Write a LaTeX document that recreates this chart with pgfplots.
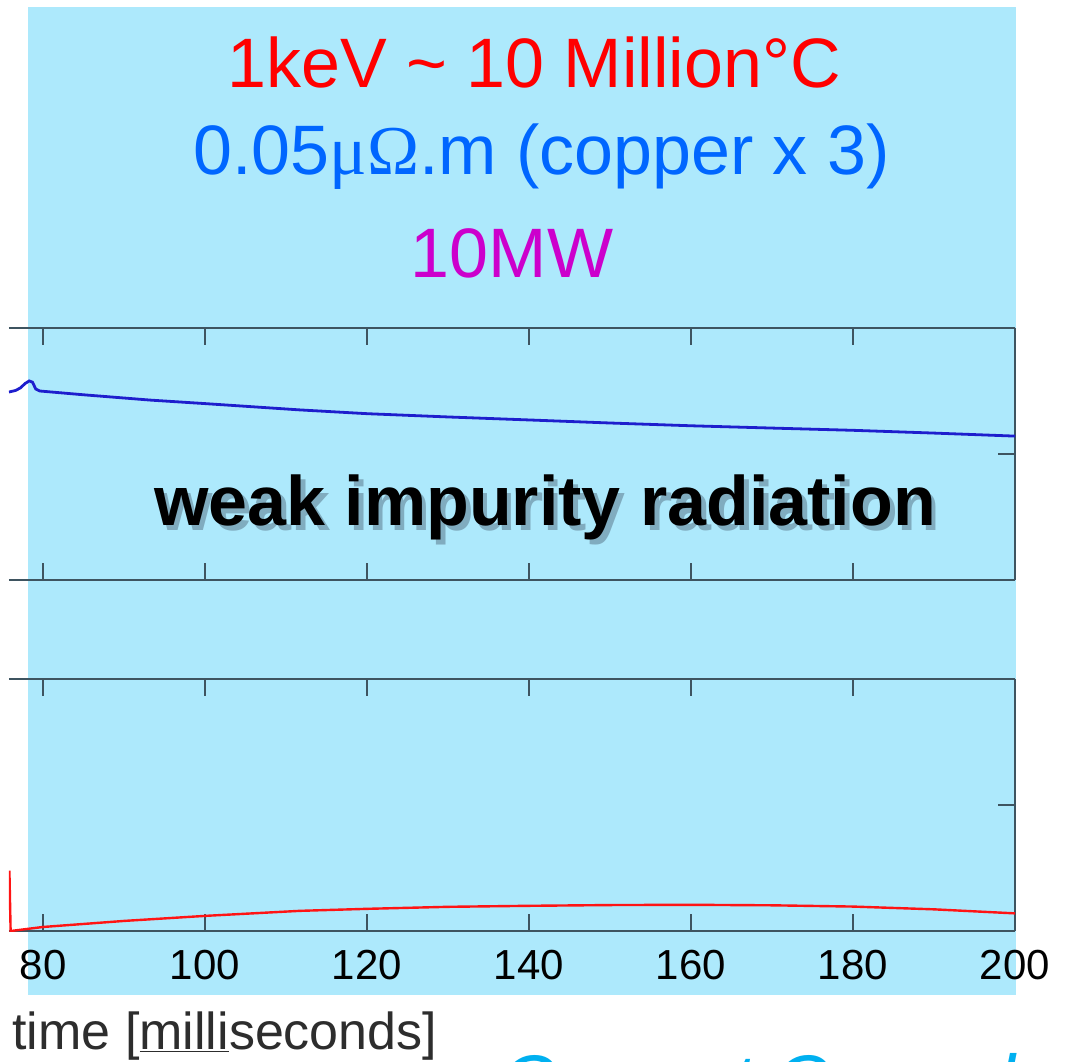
\documentclass[border=0pt]{standalone}
\usepackage{fontspec}
\setmainfont{Liberation Sans}
\newfontfamily\seriffont{Liberation Serif}
\usepackage{pgfplots}
\pgfplotsset{compat=1.18}
\definecolor{bgblue}{RGB}{173,233,252}
\definecolor{axgray}{RGB}{62,84,96}
\definecolor{curveblue}{RGB}{30,30,205}
\definecolor{curvered}{RGB}{255,20,20}
\definecolor{txtred}{RGB}{255,0,0}
\definecolor{txtblue}{RGB}{0,102,255}
\definecolor{txtmag}{RGB}{204,0,204}
\definecolor{txtcyan}{RGB}{0,176,240}
\definecolor{txtgray}{RGB}{45,45,45}
\definecolor{shadowc}{RGB}{60,80,100}
\pgfplotsset{
  panel/.style={
    at={(4.5pt,#1)}, anchor=south west,
    scale only axis, width=503pt, height=126pt,
    xmin=75.8, xmax=200, ymin=0, ymax=1,
    axis x line*=box, axis y line*=right,
    xtick={80,100,120,140,160,180,200}, xtick pos=both,
    ytick={0.5}, yticklabels={},
    tick align=inside, major tick length=8.5pt,
    axis line style={axgray, line width=1pt},
    every tick/.style={axgray, line width=1pt},
  }
}
\begin{document}
\begin{tikzpicture}
\useasboundingbox (0,0) rectangle (534pt,530.5pt);
\fill[bgblue] (14pt,33pt) rectangle (508pt,527pt);

% top panel
\begin{axis}[panel=240.5pt, xticklabels={}]
\addplot[curveblue, line width=1.4pt] coordinates {
(75.8,0.746) (76.6,0.752) (77.2,0.762) (77.8,0.780) (78.3,0.790) (78.7,0.785)
(79.1,0.758) (79.6,0.750) (85,0.735) (93.2,0.714) (100,0.700) (111.7,0.675)
(120,0.660) (130,0.647) (140.1,0.635) (150,0.623) (160,0.612) (171,0.602)
(180,0.594) (190,0.583) (200,0.571)};
\end{axis}

% bottom panel
\begin{axis}[panel=65pt,
  xticklabels={80,100,120,140,160,180,200},
  xticklabel style={font=\fontsize{21}{24}\selectfont, text=black, yshift=-6pt}]
\addplot[curvered, line width=1.2pt] coordinates {
(75.85,0.24) (76.0,0.0) (80,0.016) (90,0.040) (100,0.060) (111.7,0.080)
(120,0.088) (130,0.096) (140,0.100) (150,0.103) (160,0.104) (170,0.102)
(180,0.097) (190,0.086) (200,0.070)};
\end{axis}

% titles
\node[anchor=base, text=txtred, font=\fontsize{35}{40}\selectfont] at (267pt,486.5pt) {1keV \textasciitilde{} 10 Million°C};
\node[anchor=base, text=txtblue, font=\fontsize{35}{40}\selectfont] at (270.75pt,443pt) {0.05{\seriffont μΩ}.m (copper x 3)};
\node[anchor=base, text=txtmag, font=\fontsize{35}{40}\selectfont] at (256pt,391.5pt) {10MW};

% annotation with a soft shadow (one node)
\node[anchor=base, text=black, font=\fontsize{35}{40}\selectfont\bfseries] at (272.5pt,268pt)
  {\rlap{\hspace{2.4pt}\raisebox{-2.8pt}{\textcolor{shadowc!40!bgblue}{weak impurity radiation}}}weak impurity radiation};

% x label
\node[anchor=base west, text=txtgray, font=\fontsize{26}{30}\selectfont, inner sep=0pt] at (6pt,6pt) {time [\underline{milli}seconds]};

% cut-off text at the bottom
\node[anchor=base west, text=txtcyan, font=\fontsize{38}{44}\selectfont\itshape, inner sep=0pt] at (250pt,-23.5pt) {Current Quench};
\end{tikzpicture}
\end{document}
